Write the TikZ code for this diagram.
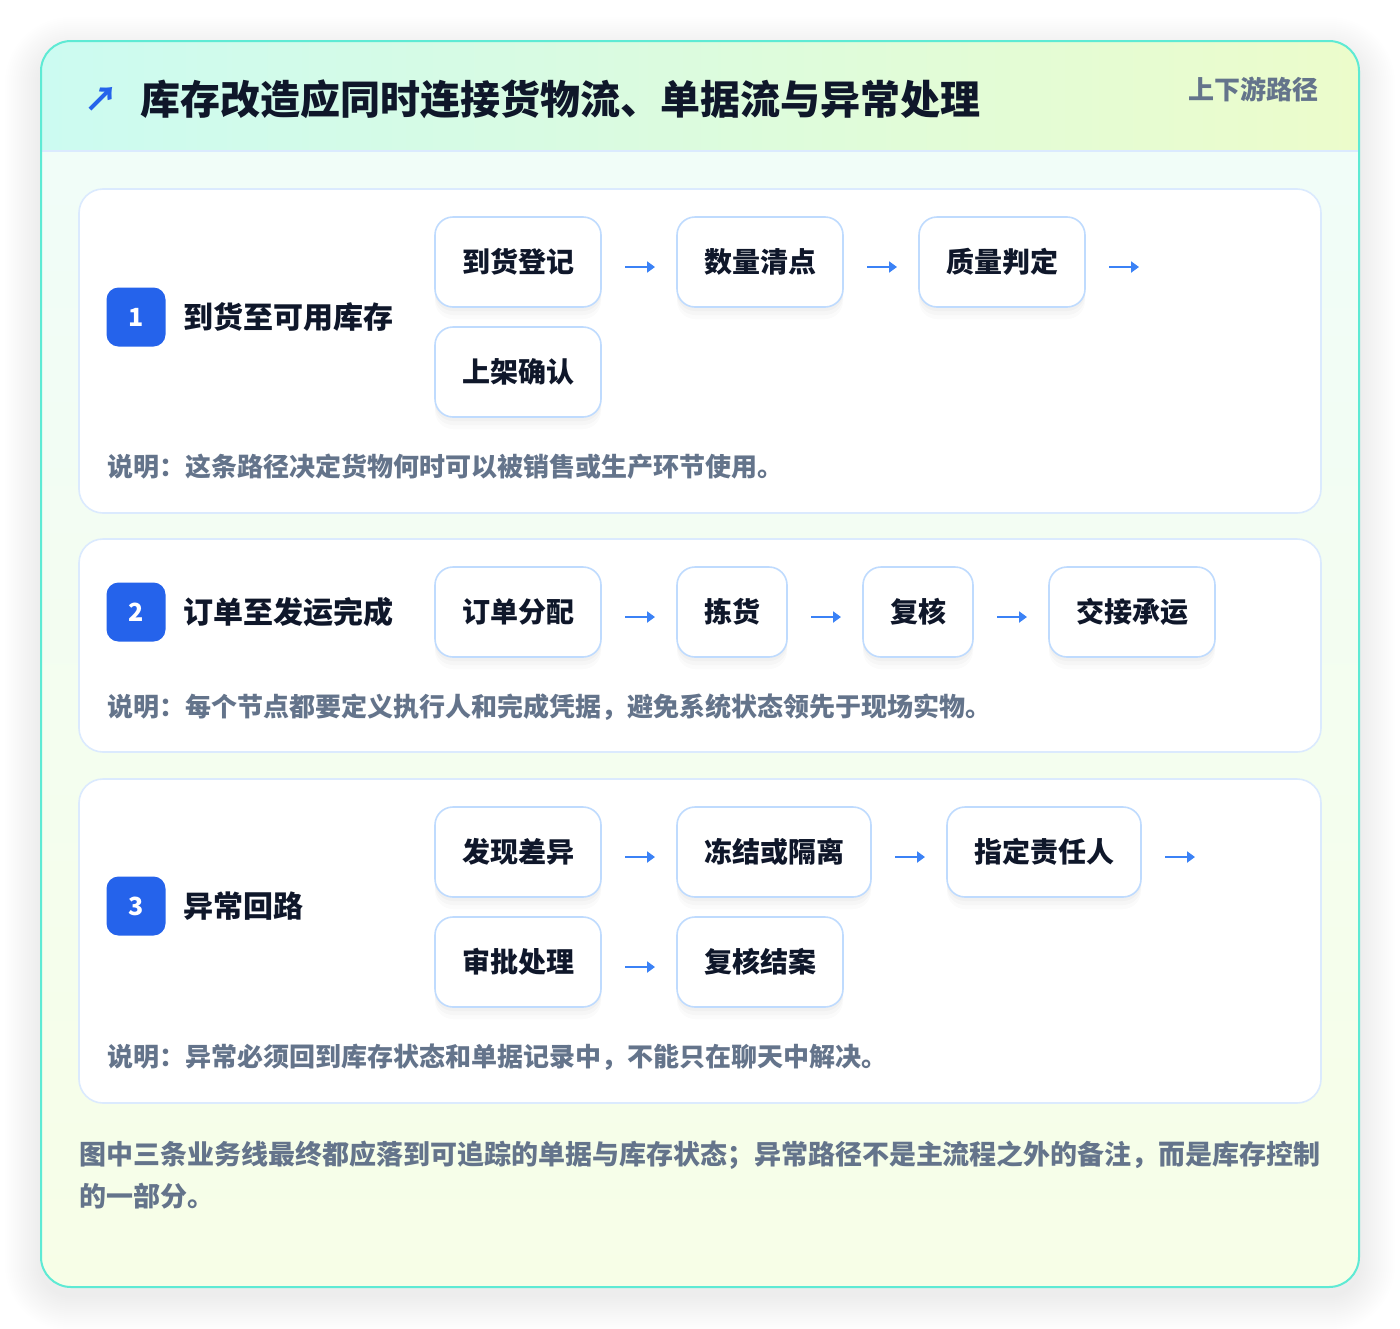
\documentclass[tikz,border=0pt]{standalone}
\usepackage{fontspec}
\setmainfont{Noto Sans CJK SC}
\usetikzlibrary{positioning,shadows,arrows.meta}

\definecolor{inktitle}{HTML}{0F172A}
\definecolor{inkmuted}{HTML}{64748B}
\definecolor{badgeblue}{HTML}{2563EB}
\definecolor{arrowblue}{HTML}{3B82F6}
\definecolor{panelline}{HTML}{DBEAFE}
\definecolor{boxline}{HTML}{BFDBFE}
\definecolor{cardline}{HTML}{5EEAD4}
\definecolor{headleft}{HTML}{CCFBF1}
\definecolor{headright}{HTML}{ECFCCB}
\definecolor{bodytop}{HTML}{F0FDFA}
\definecolor{bodybottom}{HTML}{F7FEE7}

\begin{document}
\begin{tikzpicture}[x=1pt, y=-1pt,
    every node/.style={inner sep=0pt, outer sep=0pt},
    stepbox/.style={draw=boxline, line width=1.6pt, fill=white, rounded corners=18pt,
      minimum height=90pt, inner xsep=27pt, text=inktitle,
      font=\fontsize{28}{28}\selectfont\bfseries,
      general shadow={fill=black, opacity=0.025, shadow yshift=-4pt},
      general shadow={fill=black, opacity=0.02, shadow yshift=-8pt},
      general shadow={fill=black, opacity=0.015, shadow yshift=-12pt}},
    badge/.style={fill=badgeblue, rounded corners=12pt, minimum size=59pt, text=white,
      font=\fontsize{25}{25}\selectfont\bfseries},
    sectitle/.style={anchor=west, text=inktitle, font=\fontsize{30}{30}\selectfont\bfseries},
    note/.style={anchor=west, text=inkmuted, font=\fontsize{26}{26}\selectfont\bfseries},
    panel/.style={draw=panelline, line width=1.6pt, fill=white, rounded corners=24pt},
    flow/.style={draw=arrowblue, line width=2.8pt, shorten <=24pt, shorten >=22pt,
      -{Triangle[length=8pt, width=11pt]}}]

\useasboundingbox (0,0) rectangle (1400,1328);
\fill[white] (0,0) rectangle (1400,1328);

% soft shadow of the card
\foreach \d in {2,4,...,36}
  \fill[black, opacity=0.005, rounded corners=30pt+\d pt]
    (41-\d, 53-\d) rectangle (1359+\d, 1295+\d);

% card with header band
\begin{scope}
  \clip[rounded corners=30pt] (41,41) rectangle (1359,1287);
  \shade[top color=bodytop, bottom color=bodybottom] (41,41) rectangle (1359,1287);
  \shade[left color=headleft, right color=headright] (41,41) rectangle (1359,151);
  \draw[panelline, line width=1.6pt] (41,151) -- (1359,151);
\end{scope}
\draw[cardline, line width=2pt, rounded corners=30pt] (41,41) rectangle (1359,1287);

\node[text=badgeblue, font=\fontsize{34}{34}\selectfont\bfseries] (icon) at (101,99) {↗};
\node[anchor=west, text=inktitle, font=\fontsize{40}{40}\selectfont\bfseries] (title) at (140,99)
  {库存改造应同时连接货物流、单据流与异常处理};
\node[anchor=east, text=inkmuted, font=\fontsize{26}{26}\selectfont\bfseries] (tag) at (1318,89)
  {上下游路径};

% section panels
\draw[panel] (79,189) rectangle (1321,513);
\draw[panel] (79,539) rectangle (1321,752);
\draw[panel] (79,779) rectangle (1321,1103);

% 1: arrival
\node[badge] (b1) at (136,317) {1};
\node[sectitle, right=18pt of b1] (t1) {到货至可用库存};
\node[stepbox, anchor=west] (s11) at (435,262) {到货登记};
\node[stepbox, right=76pt of s11] (s12) {数量清点};
\node[stepbox, right=76pt of s12] (s13) {质量判定};
\coordinate[right=76pt of s13] (e1);
\node[stepbox, below=20pt of s11] (s14) {上架确认};
\node[note] (n1) at (107,467) {说明：这条路径决定货物何时可以被销售或生产环节使用。};
\draw[flow] ([yshift=-5pt]s11.east) -- ([yshift=-5pt]s12.west);
\draw[flow] ([yshift=-5pt]s12.east) -- ([yshift=-5pt]s13.west);
\draw[flow] ([yshift=-5pt]s13.east) -- ([yshift=-5pt]e1);

% 2: order
\node[badge] (b2) at (136,612) {2};
\node[sectitle, right=18pt of b2] (t2) {订单至发运完成};
\node[stepbox, anchor=west] (s21) at (435,612) {订单分配};
\node[stepbox, right=76pt of s21] (s22) {拣货};
\node[stepbox, right=76pt of s22] (s23) {复核};
\node[stepbox, right=76pt of s23] (s24) {交接承运};
\node[note] (n2) at (107,707) {说明：每个节点都要定义执行人和完成凭据，避免系统状态领先于现场实物。};
\draw[flow] ([yshift=-5pt]s21.east) -- ([yshift=-5pt]s22.west);
\draw[flow] ([yshift=-5pt]s22.east) -- ([yshift=-5pt]s23.west);
\draw[flow] ([yshift=-5pt]s23.east) -- ([yshift=-5pt]s24.west);

% 3: exceptions
\node[badge] (b3) at (136,906) {3};
\node[sectitle, right=18pt of b3] (t3) {异常回路};
\node[stepbox, anchor=west] (s31) at (435,852) {发现差异};
\node[stepbox, right=76pt of s31] (s32) {冻结或隔离};
\node[stepbox, right=76pt of s32] (s33) {指定责任人};
\coordinate[right=76pt of s33] (e3);
\node[stepbox, below=20pt of s31] (s34) {审批处理};
\node[stepbox, right=76pt of s34] (s35) {复核结案};
\node[note] (n3) at (107,1057) {说明：异常必须回到库存状态和单据记录中，不能只在聊天中解决。};
\draw[flow] ([yshift=-5pt]s31.east) -- ([yshift=-5pt]s32.west);
\draw[flow] ([yshift=-5pt]s32.east) -- ([yshift=-5pt]s33.west);
\draw[flow] ([yshift=-5pt]s33.east) -- ([yshift=-5pt]e3);
\draw[flow] ([yshift=-5pt]s34.east) -- ([yshift=-5pt]s35.west);

\node[anchor=north west, align=left, text=inkmuted, font=\fontsize{27}{42}\selectfont\bfseries] (foot) at (79,1141)
  {图中三条业务线最终都应落到可追踪的单据与库存状态；异常路径不是主流程之外的备注，而是库存控制\\的一部分。};

\end{tikzpicture}
\end{document}
